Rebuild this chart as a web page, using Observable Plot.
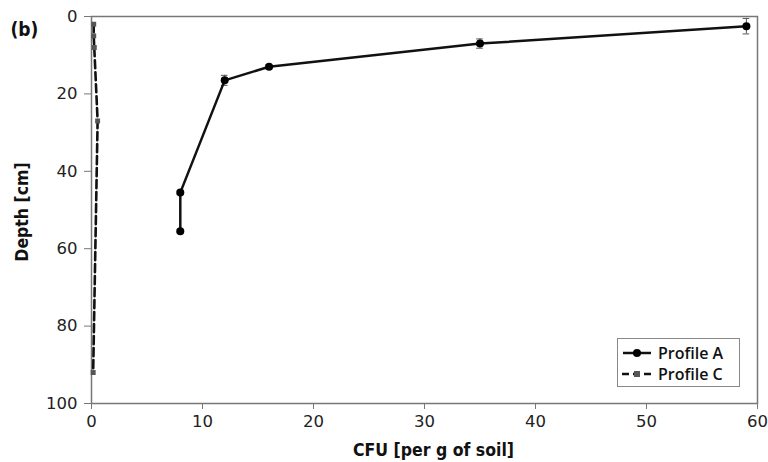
<!DOCTYPE html>
<html>
<head>
<meta charset="utf-8">
<script src="https://cdn.jsdelivr.net/npm/d3@7"></script>
<script src="https://cdn.jsdelivr.net/npm/@observablehq/plot@0.6"></script>
<style>
  html, body { margin: 0; padding: 0; background: #fff; }
  #wrap { position: relative; width: 768px; height: 462px; }
  #legend { position: absolute; left: 617px; top: 338px; width: 123px; height: 49px;
    border: 1px solid #888; background: #fff; font-family: "Open Sans", sans-serif;
    font-weight: 600; font-size: 16px; color: #111; box-sizing: border-box; padding: 3px 0 0 4px; }
  #legend div { display: flex; align-items: center; height: 21px; }
  #legend svg { margin-right: 6px; }
</style>
</head>
<body>
<div id="wrap"></div>
<script>
const cfuA = [59, 35, 16, 12, 8, 8];
const depthA = [2.5, 7, 13, 16.5, 45.5, 55.5];
const errA = [2, 1.2, 0.5, 1.3, 0.4, 0.4];
const cfuC = [0.2, 0.2, 0.25, 0.55, 0.15];
const depthC = [2, 5, 8, 27, 92];
const xTicks = [0, 10, 20, 30, 40, 50, 60];
const yTicks = [0, 20, 40, 60, 80, 100];

const A = cfuA.map((x, i) => ({x, y: depthA[i], e: errA[i]}));
const C = cfuC.map((x, i) => ({x, y: depthC[i]}));

const tickFont = "DejaVu Sans, sans-serif";
const titleFont = "DejaVu Sans Condensed, sans-serif";

const chart = Plot.plot({
  width: 768, height: 462,
  marginLeft: 91, marginRight: 11, marginTop: 16, marginBottom: 59,
  style: {fontFamily: tickFont, fontSize: "16px", color: "#222", background: "#fff"},
  x: {domain: [0, 60], ticks: xTicks, label: null},
  y: {domain: [0, 100], reverse: true, ticks: yTicks, label: null},
  marks: [
    Plot.frame({stroke: "#777", strokeWidth: 1.5}),
    Plot.axisX({ticks: xTicks, tickSize: 6, tickPadding: 6, stroke: "#777", fill: "#222", fontSize: 16.5, label: null}),
    Plot.axisY({ticks: yTicks, tickSize: 7, tickPadding: 7, stroke: "#777", fill: "#222", fontSize: 16.5, label: null}),
    Plot.ruleX(A, {x: "x", y1: d => d.y - d.e, y2: d => d.y + d.e, stroke: "#555", strokeWidth: 1}),
    Plot.ruleY(A, {y: d => d.y - d.e, x1: d => d.x - 0.3, x2: d => d.x + 0.3, stroke: "#555", strokeWidth: 1}),
    Plot.ruleY(A, {y: d => d.y + d.e, x1: d => d.x - 0.3, x2: d => d.x + 0.3, stroke: "#555", strokeWidth: 1}),
    Plot.line(C, {x: "x", y: "y", stroke: "#111", strokeWidth: 2.6, strokeDasharray: "8,4"}),
    Plot.dot(C, {x: "x", y: "y", symbol: "square", r: 2.8, fill: "#555", stroke: "none"}),
    Plot.line(A, {x: "x", y: "y", stroke: "#111", strokeWidth: 2.5}),
    Plot.dot(A, {x: "x", y: "y", r: 4, fill: "#000", stroke: "none"}),
    Plot.text(["CFU [per g of soil]"], {frameAnchor: "bottom", dx: 9, dy: 52, textAnchor: "middle", lineAnchor: "bottom", fontSize: 17.5, fontWeight: "bold", fill: "#111", fontFamily: titleFont}),
    Plot.text(["Depth [cm]"], {frameAnchor: "left", dx: -69, dy: 2, rotate: -90, textAnchor: "middle", fontSize: 17.5, fontWeight: "bold", fill: "#111", fontFamily: titleFont}),
    Plot.text(["(b)"], {frameAnchor: "top-left", dx: -81, dy: 6, textAnchor: "start", fontSize: 19, fontWeight: "bold", fill: "#111", fontFamily: titleFont})
  ]
});
const wrap = document.getElementById("wrap");
wrap.appendChild(chart);

const legend = document.createElement("div");
legend.id = "legend";
legend.innerHTML = `
  <div><svg width="30" height="10"><line x1="1" y1="5" x2="29" y2="5" stroke="#111" stroke-width="2.5"/><circle cx="15" cy="5" r="4" fill="#000"/></svg>Profile A</div>
  <div><svg width="30" height="10"><line x1="0" y1="5" x2="30" y2="5" stroke="#111" stroke-width="2.6" stroke-dasharray="7,4"/><rect x="12" y="2" width="6" height="6" fill="#555"/></svg>Profile C</div>`;
wrap.appendChild(legend);
</script>
</body>
</html>
